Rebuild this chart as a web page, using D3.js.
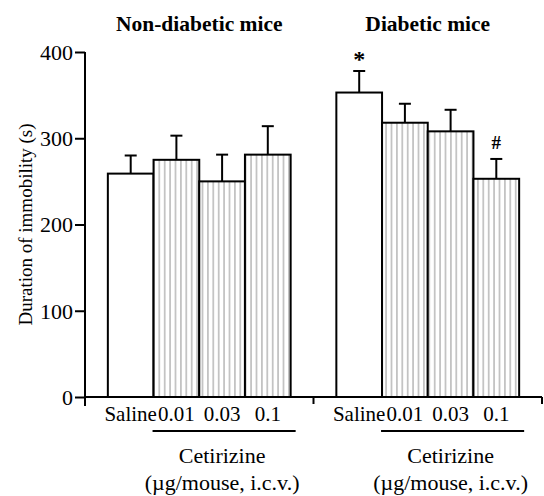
<!DOCTYPE html>
<html><head><meta charset="utf-8">
<script src="https://cdn.jsdelivr.net/npm/d3@7"></script>
<style>body{margin:0;background:#fff}svg{display:block}svg text{font-family:"Liberation Serif","Times New Roman","DejaVu Serif",serif !important;fill:#000}</style>
</head><body>
<svg id="c" width="544" height="496"></svg>
<script>
const groups = ["Non-diabetic mice", "Diabetic mice"];
const categories = ["Saline", "0.01", "0.03", "0.1"];
const means = [[259, 275, 250, 281], [353, 318, 308, 253]];
const errors = [[21, 28, 31, 33], [25, 22, 25, 23]];
const marks = [["", "", "", ""], ["*", "", "", "#"]];
const yTicks = [0, 100, 200, 300, 400];
const yLabel = "Duration of immobility (s)";
const drugLabel = ["Cetirizine", "(\u00b5g/mouse, i.c.v.)"];

const svg = d3.select("#c");
const x = d3.scaleLinear().domain([0, 10]).range([85, 542]);
const y = d3.scaleLinear().domain([0, 400]).range([397, 52]);
const slot = (g, i) => 0.5 + g * 5 + i;

const defs = svg.append("defs");
const pat = defs.append("pattern").attr("id", "hatch").attr("patternUnits", "userSpaceOnUse")
  .attr("width", 5.4).attr("height", 10);
pat.append("rect").attr("width", 5.4).attr("height", 10).attr("fill", "#fff");
pat.append("line").attr("x1", 2.7).attr("x2", 2.7).attr("y1", 0).attr("y2", 10)
  .attr("stroke", "#b8b8b8").attr("stroke-width", 1.5);

const data = [];
groups.forEach((g, gi) => categories.forEach((c, ci) => data.push({gi, ci, c, v: means[gi][ci], e: errors[gi][ci], m: marks[gi][ci]})));

// error bars
const eb = svg.append("g").attr("stroke", "#000").attr("stroke-width", 2);
data.forEach(d => {
  const cx = x(slot(d.gi, d.ci) + 0.5);
  eb.append("line").attr("x1", cx).attr("x2", cx).attr("y1", y(d.v)).attr("y2", y(d.v + d.e));
  eb.append("line").attr("x1", cx - 6).attr("x2", cx + 6).attr("y1", y(d.v + d.e)).attr("y2", y(d.v + d.e));
});

// bars
svg.append("g").selectAll("rect").data(data).join("rect")
  .attr("x", d => x(slot(d.gi, d.ci)))
  .attr("width", d => x(slot(d.gi, d.ci) + 1) - x(slot(d.gi, d.ci)))
  .attr("y", d => y(d.v))
  .attr("height", d => y(0) - y(d.v))
  .attr("fill", d => d.ci === 0 ? "#fff" : "url(#hatch)")
  .attr("stroke", "#000").attr("stroke-width", 2);

// significance marks
svg.append("g").selectAll("text").data(data.filter(d => d.m)).join("text")
  .attr("x", d => x(slot(d.gi, d.ci) + 0.5))
  .attr("y", d => d.m === "*" ? y(d.v + d.e) - 4 : y(d.v + d.e) - 10)
  .attr("text-anchor", "middle")
  .attr("font-size", d => d.m === "*" ? 24 : 19)
  .attr("font-weight", "bold")
  .text(d => d.m);

// y axis
const ya = svg.append("g").attr("transform", `translate(${x(0)},0)`)
  .call(d3.axisLeft(y).tickValues(yTicks).tickSize(10).tickPadding(2).tickFormat(d3.format("d")));
ya.attr("font-family", null);
ya.select(".domain").attr("stroke-width", 2).attr("d", `M0,${y(400)}V${y(0) + 9}`);
ya.selectAll(".tick line").attr("stroke-width", 2);
ya.selectAll(".tick text").attr("font-size", 22).attr("dy", "0.34em");

// x axis baseline and separators
const xa = svg.append("g").attr("stroke", "#000").attr("stroke-width", 2);
xa.append("line").attr("x1", x(0)).attr("x2", x(10)).attr("y1", y(0)).attr("y2", y(0));
[5, 10].forEach(t => xa.append("line").attr("x1", x(t)).attr("x2", x(t)).attr("y1", y(0)).attr("y2", y(0) + 7));

// category labels
svg.append("g").selectAll("text").data(data).join("text")
  .attr("x", d => x(slot(d.gi, d.ci) + 0.5))
  .attr("y", 421).attr("text-anchor", "middle").attr("font-size", 21)
  .text(d => d.c);

// drug labels
groups.forEach((g, gi) => {
  const l = x(slot(gi, 1)) - 1, r = x(slot(gi, 4)) + 5;
  svg.append("line").attr("x1", l).attr("x2", r).attr("y1", 431).attr("y2", 431).attr("stroke", "#000").attr("stroke-width", 2);
  const cx = (x(slot(gi, 1)) + x(slot(gi, 4))) / 2;
  svg.append("text").attr("x", cx).attr("y", 463).attr("text-anchor", "middle").attr("font-size", 22).text(drugLabel[0]);
  svg.append("text").attr("x", cx).attr("y", 490).attr("text-anchor", "middle").attr("font-size", 22).text(drugLabel[1]);
  svg.append("text").attr("x", (x(slot(gi, 0)) + x(slot(gi, 4))) / 2).attr("y", 31)
    .attr("text-anchor", "middle").attr("font-size", 21.5).attr("font-weight", "bold").text(g);
});

// y label
svg.append("text").attr("transform", `translate(32,${(y(0) + y(400)) / 2}) rotate(-90)`)
  .attr("text-anchor", "middle").attr("font-size", 19).text(yLabel);
</script>
</body></html>
